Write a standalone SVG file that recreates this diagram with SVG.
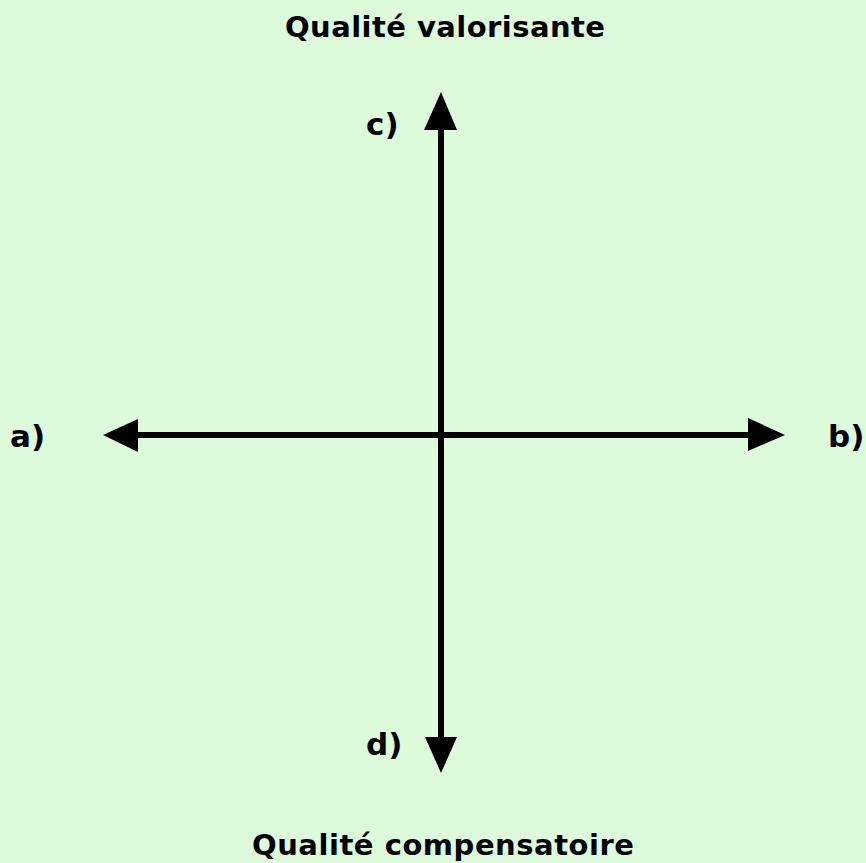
<svg xmlns="http://www.w3.org/2000/svg" width="866" height="863" viewBox="0 0 866 863">
<style>
text{font-family:"DejaVu Sans","Liberation Sans",sans-serif;font-weight:bold;fill:#000}
.t{font-size:29px}
.l{font-size:31px}
.ax{stroke:#000;stroke-width:6;fill:none}
.ah{fill:#000}
</style>
<rect width="866" height="863" fill="#ddfadb"/>
<g id="title-top"><text class="t" x="285" y="37" textLength="320" lengthAdjust="spacing">Qualité valorisante</text></g>
<g id="title-bottom"><text class="t" x="252" y="855" textLength="382" lengthAdjust="spacing">Qualité compensatoire</text></g>
<g id="connectors">
<line class="ax" x1="441" y1="125" x2="441" y2="742"/>
<line class="ax" x1="132" y1="435" x2="755" y2="435"/>
<polygon class="ah" points="441,92 457,130 424,130"/>
<polygon class="ah" points="441,773 457,737 425,737"/>
<polygon class="ah" points="103,435 138,419 138,452"/>
<polygon class="ah" points="785,435 748,418 748,451"/>
</g>
<g id="label-c"><text class="l" x="366" y="135">c)</text></g>
<g id="label-a"><text class="l" x="10" y="447">a)</text></g>
<g id="label-b"><text class="l" x="828" y="447">b)</text></g>
<g id="label-d"><text class="l" x="366" y="755">d)</text></g>
</svg>
